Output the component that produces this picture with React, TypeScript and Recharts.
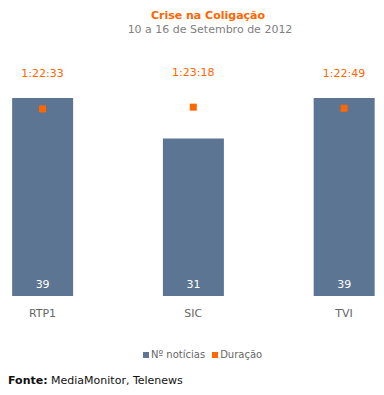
import React from 'react';
import { ComposedChart, Bar, Line, XAxis, YAxis, LabelList } from 'recharts';

const channels = ['RTP1', 'SIC', 'TVI'];
const newsCount = [39, 31, 39];
const durations = ['1:22:33', '1:23:18', '1:22:49'];

const toSeconds = (s: string) => s.split(':').reduce((acc, p) => acc * 60 + Number(p), 0);

const data = channels.map((name, i) => ({
  idx: i,
  name,
  count: newsCount[i],
  secs: toSeconds(durations[i]),
  label: durations[i],
}));

const FONT = '"DejaVu Sans", Verdana, sans-serif';
const BAR = '#5B7592';
const ORANGE = '#FF6600';

const SquareDot = (props: any) => {
  const { cx, cy } = props;
  if (cx == null || cy == null) return null;
  return <rect x={cx - 3.5} y={cy - 3.5} width={7} height={7} fill={ORANGE} />;
};

const DurationLabel = (props: any) => {
  const { x, y, index } = props;
  return (
    <text x={x} y={y - 35} textAnchor="middle" dominantBaseline="central"
      fill={ORANGE} fontSize={11} fontFamily={FONT}>
      {durations[index]}
    </text>
  );
};

export default function App() {
  return (
    <div style={{ position: 'absolute', left: 0, top: 0, width: 384, height: 395, background: '#fff', fontFamily: FONT }}>
      <div style={{ position: 'absolute', left: 208, top: 9, transform: 'translateX(-50%)', whiteSpace: 'nowrap',
        color: ORANGE, fontWeight: 'bold', fontSize: 11 }}>
        Crise na Coligação
      </div>
      <div style={{ position: 'absolute', left: 210, top: 23, transform: 'translateX(-50%)', whiteSpace: 'nowrap',
        color: '#808080', fontSize: 11 }}>
        10 a 16 de Setembro de 2012
      </div>
      <ComposedChart width={384} height={395} data={data}
        margin={{ top: 42, right: 0, left: 0, bottom: 69 }}>
        <XAxis dataKey="idx" type="number" domain={[-0.282, 2.265]} ticks={[0, 1, 2]}
          allowDataOverflow height={30}
          tickFormatter={(v: number) => channels[v]}
          axisLine={false} tickLine={false} tickMargin={7}
          tick={{ fill: '#666', fontSize: 11, fontFamily: FONT }} />
        <YAxis yAxisId="left" hide domain={[0, 50]} />
        <YAxis yAxisId="right" orientation="right" hide domain={[0, 6722]} />
        <Bar yAxisId="left" dataKey="count" fill={BAR} barSize={61} isAnimationActive={false}>
          <LabelList dataKey="count" position="insideBottom" offset={8} fill="#fff"
            fontSize={11} fontFamily={FONT} />
        </Bar>
        <Line yAxisId="right" dataKey="secs" stroke="none" dot={<SquareDot />} activeDot={false}
          isAnimationActive={false}>
          <LabelList dataKey="label" content={<DurationLabel />} />
        </Line>
      </ComposedChart>
      <div style={{ position: 'absolute', left: 143, top: 349, display: 'flex', alignItems: 'center',
        fontSize: 10, color: '#666', whiteSpace: 'nowrap' }}>
        <span style={{ width: 6, height: 6, background: BAR, display: 'inline-block', marginRight: 2 }} />
        <span style={{ marginRight: 7 }}>Nº notícias</span>
        <span style={{ width: 6, height: 6, background: ORANGE, display: 'inline-block', marginRight: 2 }} />
        <span>Duração</span>
      </div>
      <div style={{ position: 'absolute', left: 8, top: 374, fontSize: 11, color: '#111', whiteSpace: 'nowrap' }}>
        <b>Fonte:</b> MediaMonitor, Telenews
      </div>
    </div>
  );
}
